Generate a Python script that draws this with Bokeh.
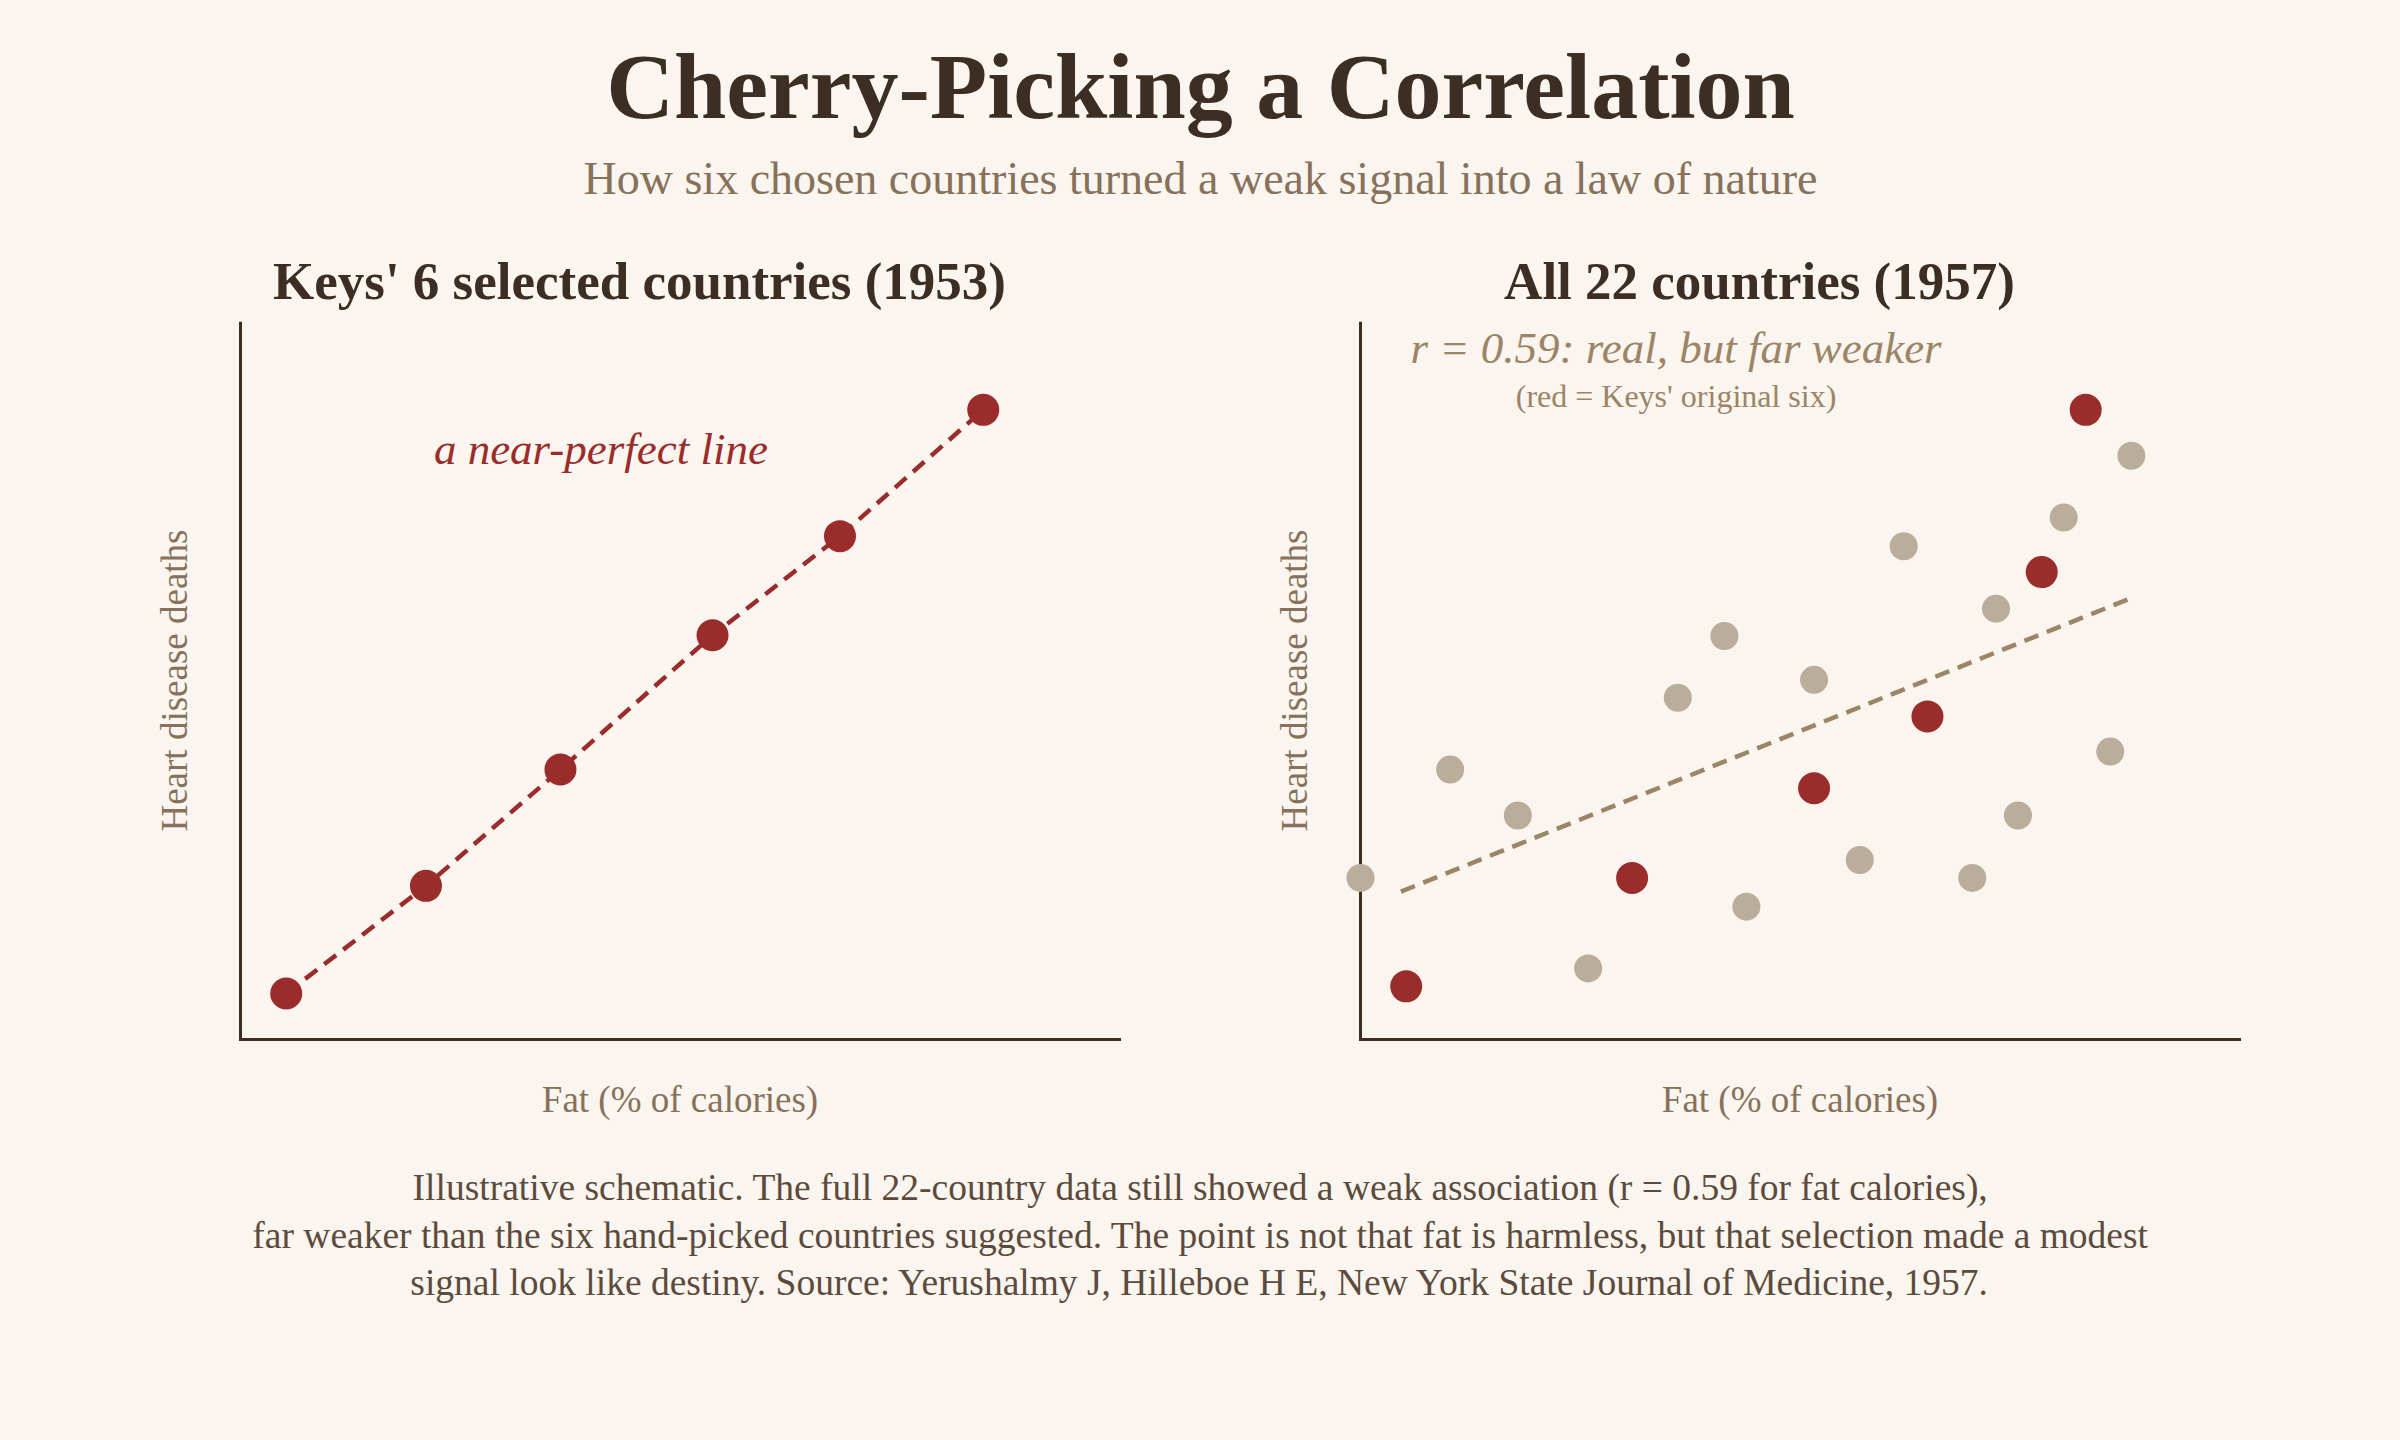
from bokeh.plotting import figure
from bokeh.models import Range1d, Label, Span, FixedTicker
from bokeh.layouts import column, row
from bokeh.embed import file_html
from bokeh.resources import INLINE

# ---------------- data (schematic units, 0-100) ----------------
keys6_fat = [5.2, 21.1, 36.4, 53.7, 68.2, 84.5]
keys6_deaths = [6.4, 21.4, 37.6, 56.3, 70.1, 87.7]

other16_fat = [0.0, 10.2, 17.9, 25.9, 36.1, 41.4, 43.9, 51.6,
               56.8, 61.8, 69.6, 72.3, 74.8, 80.0, 85.3, 87.7]
other16_deaths = [22.5, 37.6, 31.2, 9.9, 47.6, 56.2, 18.5, 50.1,
                  25.0, 68.7, 22.5, 60.0, 31.2, 72.7, 40.1, 81.3]
keys6_1957_fat = [5.2, 30.9, 51.6, 64.5, 77.5, 82.5]
keys6_1957_deaths = [7.4, 22.5, 35.0, 45.0, 65.1, 87.7]
trend_fat = [4.6, 87.3]
trend_deaths = [20.6, 61.3]

title_text = "Cherry-Picking a Correlation"
subtitle_text = "How six chosen countries turned a weak signal into a law of nature"
panel_titles = ["Keys' 6 selected countries (1953)", "All 22 countries (1957)"]
x_label = "Fat (% of calories)"
y_label = "Heart disease deaths"
note_left = "a near-perfect line"
note_right = "r = 0.59: real, but far weaker"
note_right2 = "(red = Keys' original six)"
footnote_lines = [
    "Illustrative schematic. The full 22-country data still showed a weak association (r = 0.59 for fat calories),",
    "far weaker than the six hand-picked countries suggested. The point is not that fat is harmless, but that selection made a modest",
    "signal look like destiny. Source: Yerushalmy J, Hilleboe H E, New York State Journal of Medicine, 1957.",
]

# ---------------- style ----------------
BG = "#FAF5EE"
DARK = "#3D2E24"
SUB = "#87715B"
RED = "#9B2C2C"
GRAY = "#BAAD99"
TREND = "#9C8466"
NOTE = "#5C4B3D"
FONT = "Liberation Serif"

HDR_H = 316
FTR_H = 290
PANEL_H = 1440 - HDR_H - FTR_H


def text_fig(width, height):
    f = figure(width=width, height=height, x_range=Range1d(0, width), y_range=Range1d(height, 0),
               output_backend="svg", toolbar_location=None, title=None,
               x_axis_location=None, y_axis_location=None, min_border=0,
               background_fill_color=BG, border_fill_color=BG, outline_line_color=None)
    f.grid.visible = False
    return f


def lbl(f, x, y, text, size, color, style="normal", align="center"):
    f.add_layout(Label(x=x, y=y, text=text, text_font=FONT, text_font_size=size,
                       text_font_style=style, text_color=color, text_align=align,
                       text_baseline="alphabetic"))


# header
hdr = text_fig(2400, HDR_H)
lbl(hdr, 1200, 85, title_text, "94px", DARK, "bold")
lbl(hdr, 1200, 178, subtitle_text, "46px", SUB)
lbl(hdr, 639, 280, panel_titles[0], "53px", DARK, "bold")
lbl(hdr, 1759, 280, panel_titles[1], "53px", DARK, "bold")


def panel(border_left, border_right):
    p = figure(width=1200, height=PANEL_H, x_range=Range1d(-1.82, 101.82), y_range=Range1d(0, 100),
               output_backend="svg", toolbar_location=None, title=None,
               min_border_left=border_left, min_border_right=border_right,
               min_border_top=321 - HDR_H, min_border_bottom=(1440 - FTR_H) - 1039,
               background_fill_color=BG, border_fill_color=BG, outline_line_color=None)
    p.grid.visible = False
    for ax in (p.xaxis, p.yaxis):
        ax.ticker = FixedTicker(ticks=[])
        ax.major_tick_line_color = None
        ax.minor_tick_line_color = None
        ax.major_label_text_font_size = "0px"
        ax.axis_label_text_font = FONT
        ax.axis_label_text_font_style = "normal"
        ax.axis_label_text_font_size = "37px"
        ax.axis_label_text_color = SUB
    p.xaxis.axis_label = x_label
    p.yaxis.axis_label = y_label
    p.xaxis.axis_line_color = DARK
    p.xaxis.axis_line_width = 3
    p.xaxis.axis_line_cap = "square"
    p.xaxis.bounds = (0, 100)
    p.xaxis.axis_label_standoff = 39
    p.yaxis.axis_line_color = None
    p.yaxis.axis_label_standoff = 30
    p.add_layout(Span(location=0, dimension="height", line_color=DARK, line_width=3, level="underlay"))
    return p


left = panel(224, 65)
left.line(keys6_fat, keys6_deaths, line_color=RED, line_width=4.5, line_dash="15 9")
left.scatter(keys6_fat, keys6_deaths, size=32, fill_color=RED, line_color=None)
left.add_layout(Label(x=41, y=82.2, text=note_left, text_font=FONT, text_font_size="45px",
                      text_font_style="italic", text_color=RED, text_align="center",
                      text_baseline="alphabetic"))

right = panel(144, 145)
right.line(trend_fat, trend_deaths, line_color=TREND, line_width=4.5, line_dash="15 9")
right.scatter(other16_fat, other16_deaths, size=28, fill_color=GRAY, line_color=None)
right.scatter(keys6_1957_fat, keys6_1957_deaths, size=32, fill_color=RED, line_color=None)
right.add_layout(Label(x=35.9, y=96.3, text=note_right, text_font=FONT, text_font_size="45px",
                       text_font_style="italic", text_color=TREND, text_align="center",
                       text_baseline="alphabetic"))
right.add_layout(Label(x=35.9, y=89.6, text=note_right2, text_font=FONT, text_font_size="32px",
                       text_color=TREND, text_align="center", text_baseline="alphabetic"))

# footer
ftr = text_fig(2400, FTR_H)
for i, line in enumerate(footnote_lines):
    lbl(ftr, 1200, 37 + 47.5 * i, line, "37.5px", NOTE)

page = column(hdr, row(left, right, styles={"background-color": BG}), ftr,
              styles={"background-color": BG})
open("out.html", "w").write(file_html(page, INLINE, title="Cherry-Picking a Correlation"))
